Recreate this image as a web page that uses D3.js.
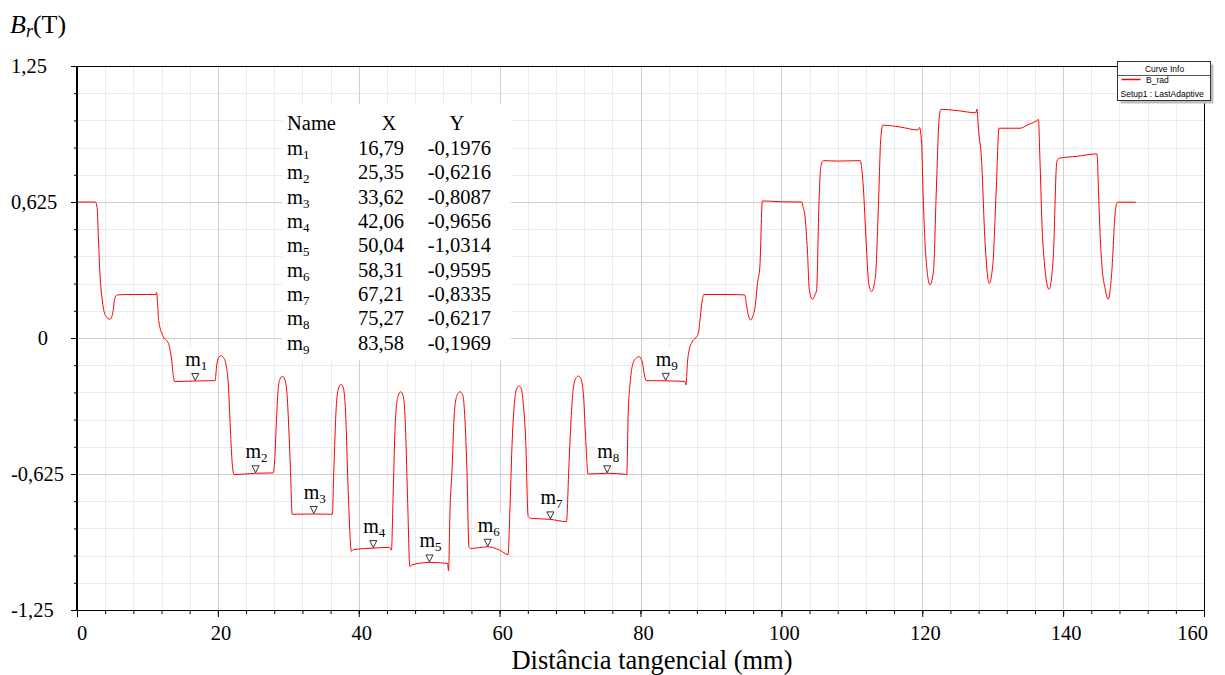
<!DOCTYPE html>
<html>
<head>
<meta charset="utf-8">
<script src="https://cdn.jsdelivr.net/npm/d3@7"></script>
<style>
  body { margin: 0; background: #fff; }
  svg { display: block; }
  text { fill: #000; }
</style>
</head>
<body>
<div id="chart"></div>
<script>
// B_rad curve (tangential distance in mm, radial flux density in T)
const brX = [0, 2.6, 2.85, 3.05, 3.25, 3.6, 4.1, 4.7, 5.1, 5.35, 5.7, 8.0, 11.2, 11.3, 11.45, 11.6, 12.25, 12.97, 13.44, 13.7, 13.85,
  16.79, 19.6, 19.85, 20.1, 20.45, 20.8, 21.2, 21.5, 21.75, 22.0, 22.3,
  25.35, 27.85, 28.05, 28.3, 28.55, 28.8, 29.15, 29.5, 29.8, 30.05, 30.3, 30.55,
  33.62, 36.25, 36.45, 36.8, 37.1, 37.48, 37.85, 38.1, 38.5, 38.95, 39.3,
  42.06, 44.4, 44.65, 44.85, 45.2, 45.6, 45.95, 46.3, 46.6, 46.95, 47.25, 47.5,
  50.04, 52.6, 52.75, 52.95, 53.25, 53.6, 54.0, 54.37, 54.75, 55.0, 55.35, 55.65, 55.9,
  58.31, 60.0, 61.2, 61.45, 61.8, 62.1, 62.4, 62.75, 63.1, 63.35, 63.7, 64.05, 64.5,
  67.21, 69.5, 69.8, 70.1, 70.4, 70.8, 71.17, 71.5, 71.9, 72.2, 72.55,
  75.27, 77.95, 78.05, 78.25, 78.55, 78.9, 79.3, 79.8, 80.25, 80.55, 80.8,
  83.58, 86.3, 86.45, 86.7, 86.95, 87.3, 87.8, 88.2, 88.5, 88.75, 89.0,
  92.0, 94.8, 95.05, 95.35, 95.65, 95.95, 96.3, 96.6, 96.95, 97.3,
  100.0, 102.9, 103.1, 103.35, 103.7, 103.97, 104.4, 104.8, 105.0, 105.35, 105.6, 105.95,
  108.0, 111.2, 111.4, 111.6, 112.1, 112.4, 112.8, 113.2, 113.4, 113.8, 114.1, 114.4,
  116.8, 119.4, 119.6, 119.9, 120.1, 120.5, 121.1, 121.6, 122.0, 122.4, 122.65,
  125.0, 127.6, 127.75, 128.0, 128.4, 128.9, 129.5, 130.0, 130.5, 130.9,
  133.9, 135.0, 136.3, 136.5, 136.7, 137.1, 138.0, 138.6, 139.1, 139.4,
  142.0, 144.8, 145.1, 145.4, 146.0, 146.4, 146.9, 147.4, 147.7, 150.3];
const brY = [0.625, 0.625, 0.6, 0.45, 0.30, 0.17, 0.10, 0.086, 0.12, 0.18, 0.198, 0.2, 0.2, 0.21, 0.15, 0.08, 0.006, -0.024, -0.101, -0.18, -0.2,
  -0.1976, -0.196, -0.12, -0.09, -0.082, -0.09, -0.13, -0.22, -0.40, -0.56, -0.628,
  -0.6216, -0.62, -0.57, -0.39, -0.24, -0.19, -0.176, -0.19, -0.25, -0.40, -0.60, -0.81,
  -0.8087, -0.81, -0.62, -0.32, -0.235, -0.213, -0.235, -0.32, -0.70, -0.98, -0.972,
  -0.9656, -0.962, -0.975, -0.76, -0.38, -0.265, -0.247, -0.265, -0.38, -0.76, -1.05, -1.043,
  -1.0314, -1.036, -1.07, -0.8, -0.6, -0.33, -0.26, -0.247, -0.26, -0.33, -0.6, -0.96, -0.967,
  -0.9595, -0.975, -0.995, -0.80, -0.46, -0.30, -0.235, -0.221, -0.235, -0.30, -0.47, -0.82, -0.829,
  -0.8335, -0.844, -0.62, -0.40, -0.25, -0.185, -0.175, -0.185, -0.26, -0.45, -0.625,
  -0.6217, -0.627, -0.63, -0.35, -0.2, -0.12, -0.095, -0.086, -0.11, -0.17, -0.196,
  -0.1969, -0.2, -0.216, -0.1, -0.05, -0.02, 0.0, 0.02, 0.1, 0.17, 0.2,
  0.2, 0.198, 0.15, 0.1, 0.083, 0.1, 0.15, 0.25, 0.33, 0.63,
  0.626, 0.625, 0.6, 0.56, 0.40, 0.22, 0.178, 0.2, 0.22, 0.63, 0.787, 0.815,
  0.813, 0.815, 0.78, 0.71, 0.40, 0.25, 0.213, 0.25, 0.30, 0.63, 0.91, 0.978,
  0.97, 0.956, 0.968, 0.90, 0.68, 0.38, 0.244, 0.31, 0.68, 1.01, 1.051,
  1.045, 1.035, 1.052, 0.95, 0.83, 0.45, 0.251, 0.33, 0.68, 0.964,
  0.964, 0.98, 1.0, 1.005, 0.83, 0.45, 0.224, 0.37, 0.81, 0.826,
  0.835, 0.846, 0.6, 0.38, 0.22, 0.178, 0.3, 0.58, 0.624, 0.624];

// markers
const markerNames = ["1", "2", "3", "4", "5", "6", "7", "8", "9"];
const markerX = [16.79, 25.35, 33.62, 42.06, 50.04, 58.31, 67.21, 75.27, 83.58];
const markerY = [-0.1976, -0.6216, -0.8087, -0.9656, -1.0314, -0.9595, -0.8335, -0.6217, -0.1969];
const markerXLabels = ["16,79", "25,35", "33,62", "42,06", "50,04", "58,31", "67,21", "75,27", "83,58"];
const markerYLabels = ["-0,1976", "-0,6216", "-0,8087", "-0,9656", "-1,0314", "-0,9595", "-0,8335", "-0,6217", "-0,1969"];

// ticks
const xTicks = [0, 20, 40, 60, 80, 100, 120, 140, 160];
const yTicks = [-1.25, -0.625, 0, 0.625, 1.25];
const yTickLabels = ["-1,25", "-0,625", "0", "0,625", "1,25"];

const width = 1225, height = 675;
const margin = { top: 66, right: 21, bottom: 65, left: 77 };
const plotW = width - margin.left - margin.right;
const plotH = height - margin.top - margin.bottom;
const serif = "'Liberation Serif', 'Times New Roman', serif";
const sans = "'Liberation Sans', Arial, sans-serif";

const svg = d3.select("#chart").append("svg")
  .attr("width", width)
  .attr("height", height);

const g = svg.append("g")
  .attr("transform", `translate(${margin.left},${margin.top})`);

const x = d3.scaleLinear().domain([0, 160]).range([0, plotW]);
const y = d3.scaleLinear().domain([-1.25, 1.25]).range([plotH, 0]);

// grid lines (minor then major)
const xMinor = d3.range(0, 161, 4);
const yMinor = d3.range(-1.25, 1.2501, 0.125);

g.append("g").selectAll("line").data(xMinor).enter().append("line")
  .attr("x1", d => Math.round(x(d)) + 0.5).attr("x2", d => Math.round(x(d)) + 0.5)
  .attr("y1", 0).attr("y2", plotH)
  .attr("stroke", "#ebebeb");
g.append("g").selectAll("line").data(yMinor).enter().append("line")
  .attr("x1", 0).attr("x2", plotW)
  .attr("y1", d => Math.round(y(d)) + 0.5).attr("y2", d => Math.round(y(d)) + 0.5)
  .attr("stroke", "#ebebeb");
g.append("g").selectAll("line").data(xTicks).enter().append("line")
  .attr("x1", d => Math.round(x(d)) + 0.5).attr("x2", d => Math.round(x(d)) + 0.5)
  .attr("y1", 0).attr("y2", plotH)
  .attr("stroke", "#cfcfcf");
g.append("g").selectAll("line").data(yTicks).enter().append("line")
  .attr("x1", 0).attr("x2", plotW)
  .attr("y1", d => Math.round(y(d)) + 0.5).attr("y2", d => Math.round(y(d)) + 0.5)
  .attr("stroke", "#cfcfcf");

// curve
const pts = brX.map((d, i) => [d, brY[i]]);
const line = d3.line()
  .x(d => x(d[0]))
  .y(d => y(d[1]))
  .curve(d3.curveMonotoneX);

g.append("path")
  .datum(pts)
  .attr("d", line)
  .attr("fill", "none")
  .attr("stroke", "#ff0000")
  .attr("stroke-width", 1);

// frame
g.append("rect")
  .attr("x", 0.5).attr("y", 0.5)
  .attr("width", plotW).attr("height", plotH)
  .attr("fill", "none")
  .attr("stroke", "#000");
g.append("line")
  .attr("x1", 0).attr("x2", 0).attr("y1", 0).attr("y2", plotH)
  .attr("stroke", "#000").attr("stroke-width", 2);

// axes ticks
const xAxisMinor = d3.axisBottom(x).tickValues(xMinor).tickSize(4).tickFormat("");
const xAxisMajor = d3.axisBottom(x).tickValues(xTicks).tickSize(7).tickFormat("");
const yAxisMinor = d3.axisLeft(y).tickValues(yMinor).tickSize(3).tickFormat("");
const yAxisMajor = d3.axisLeft(y).tickValues(yTicks).tickSize(6).tickFormat("");

[xAxisMinor, xAxisMajor].forEach(ax => {
  g.append("g").attr("transform", `translate(0,${plotH})`).call(ax)
    .call(s => s.select(".domain").remove());
});
[yAxisMinor, yAxisMajor].forEach(ax => {
  g.append("g").call(ax).call(s => s.select(".domain").remove());
});

// tick labels
g.append("g").selectAll("text").data(xTicks).enter().append("text")
  .attr("x", d => d === 0 ? x(d) : d === 160 ? x(d) + 4 : x(d) + 3)
  .attr("y", plotH + 30)
  .attr("text-anchor", d => d === 0 ? "start" : d === 160 ? "end" : "middle")
  .style("font-family", serif)
  .style("font-size", "20.5px")
  .text(d => d);

svg.append("g").selectAll("text").data(yTicks).enter().append("text")
  .attr("x", d => d === 0 ? 48 : 11)
  .attr("y", d => margin.top + y(d))
  .attr("dy", "0.35em")
  .attr("text-anchor", d => d === 0 ? "end" : "start")
  .style("font-family", serif)
  .style("font-size", "20.5px")
  .text((d, i) => yTickLabels[i]);

// axis titles
svg.append("text")
  .attr("x", 652)
  .attr("y", 669)
  .attr("text-anchor", "middle")
  .style("font-family", serif)
  .style("font-size", "26.5px")
  .text("Distância tangencial (mm)");

const yTitle = svg.append("text")
  .attr("x", 10)
  .attr("y", 33)
  .style("font-family", serif)
  .style("font-size", "26px");
yTitle.append("tspan").style("font-style", "italic").text("B");
yTitle.append("tspan").style("font-style", "italic").style("font-size", "18px").attr("dy", 4).text("r");
yTitle.append("tspan").attr("dy", -4).text("(T)");

// markers
const markers = g.append("g").selectAll("g").data(markerX).enter().append("g")
  .attr("transform", (d, i) => `translate(${x(d)},${y(markerY[i])})`);

markers.append("rect")
  .attr("x", -12).attr("y", -33)
  .attr("width", 28).attr("height", 22)
  .attr("fill", "#fff");

markers.append("path")
  .attr("d", "M-3.5,-7.5 L3.5,-7.5 L0,-0.5 Z")
  .attr("fill", "#fff")
  .attr("stroke", "#000")
  .attr("stroke-width", 0.8);

const mLabel = markers.append("text")
  .attr("x", -10)
  .attr("y", -15)
  .style("font-family", serif)
  .style("font-size", "20px");
mLabel.append("tspan").text("m");
mLabel.append("tspan").attr("dy", 4).style("font-size", "13px").text((d, i) => markerNames[i]);

// marker table
const table = svg.append("g");
table.append("rect")
  .attr("x", 282).attr("y", 104)
  .attr("width", 229).attr("height", 256)
  .attr("fill", "#fff");

const rowY0 = 123, rowStep = 24.3;
const header = [["Name", 287, "start"], ["X", 389, "middle"], ["Y", 457, "middle"]];
table.selectAll("text.head").data(header).enter().append("text")
  .attr("class", "head")
  .attr("x", d => d[1]).attr("y", rowY0).attr("dy", "0.35em")
  .attr("text-anchor", d => d[2])
  .style("font-family", serif).style("font-size", "20.5px")
  .text(d => d[0]);

const rows = table.selectAll("g.row").data(markerNames).enter().append("g")
  .attr("class", "row")
  .attr("transform", (d, i) => `translate(0,${rowY0 + 25 + rowStep * i})`);

const nameText = rows.append("text")
  .attr("x", 287).attr("dy", "0.35em")
  .style("font-family", serif).style("font-size", "20.5px");
nameText.append("tspan").text("m");
nameText.append("tspan").attr("dy", 4).style("font-size", "13px").text(d => d);

rows.append("text")
  .attr("x", 404).attr("dy", "0.35em")
  .attr("text-anchor", "end")
  .style("font-family", serif).style("font-size", "20.5px")
  .text((d, i) => markerXLabels[i]);

rows.append("text")
  .attr("x", 491).attr("dy", "0.35em")
  .attr("text-anchor", "end")
  .style("font-family", serif).style("font-size", "20.5px")
  .text((d, i) => markerYLabels[i]);

// legend box (Curve Info)
const legend = svg.append("g").attr("transform", "translate(1117.5,61.5)");
legend.append("rect")
  .attr("x", 3).attr("y", 3).attr("width", 93).attr("height", 39)
  .attr("fill", "#bdbdbd");
legend.append("rect")
  .attr("x", 0).attr("y", 0).attr("width", 93).attr("height", 39)
  .attr("fill", "#fff").attr("stroke", "#333");
legend.append("line")
  .attr("x1", 0).attr("x2", 93).attr("y1", 14).attr("y2", 14)
  .attr("stroke", "#555");
legend.append("text")
  .attr("x", 47).attr("y", 10.5)
  .attr("text-anchor", "middle")
  .style("font-family", sans).style("font-size", "8.5px")
  .text("Curve Info");
legend.append("line")
  .attr("x1", 4).attr("x2", 23).attr("y1", 18).attr("y2", 18)
  .attr("stroke", "#ff0000").attr("stroke-width", 1.5);
legend.append("text")
  .attr("x", 28.5).attr("y", 21.5)
  .style("font-family", sans).style("font-size", "8.5px")
  .text("B_rad");
legend.append("text")
  .attr("x", 3).attr("y", 35.5)
  .style("font-family", sans).style("font-size", "8.5px")
  .text("Setup1 : LastAdaptive");
</script>
</body>
</html>
